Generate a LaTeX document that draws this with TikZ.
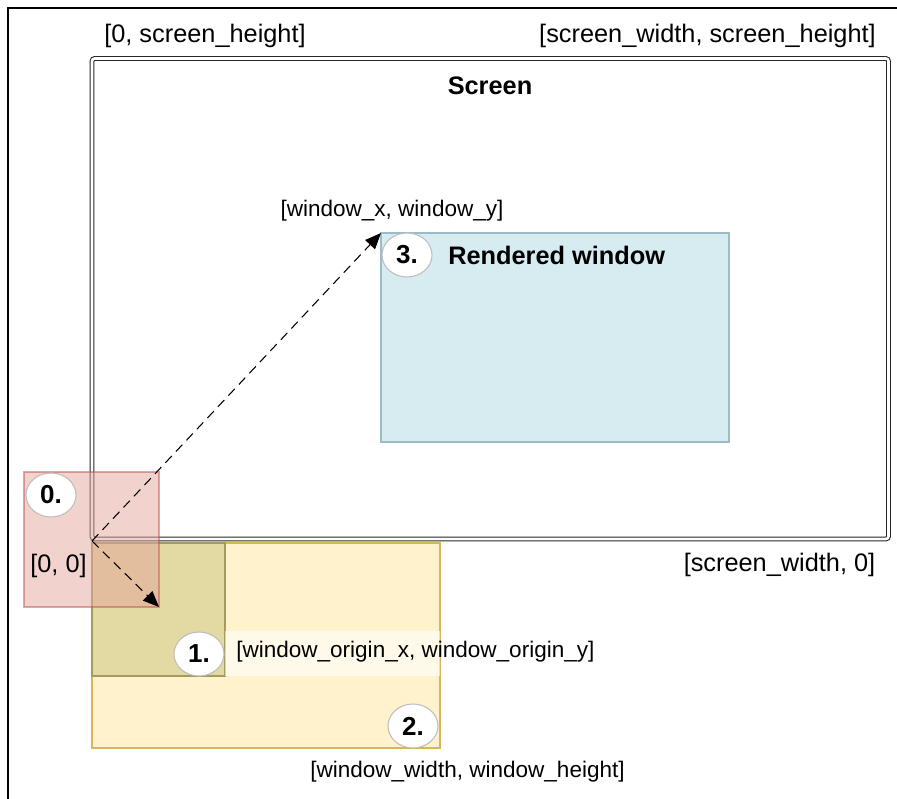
\documentclass[tikz,border=0pt]{standalone}
\usepackage{fontspec}
\setmainfont{Liberation Sans}
\usetikzlibrary{arrows.meta,fit,shapes.geometric}
\definecolor{yfill}{RGB}{255,242,204}
\definecolor{ydraw}{RGB}{214,182,86}
\definecolor{ofill}{RGB}{227,217,162}
\definecolor{odraw}{RGB}{165,155,95}
\definecolor{rfill}{RGB}{228,165,156}
\definecolor{rdraw}{RGB}{184,84,80}
\definecolor{bfill}{RGB}{214,236,240}
\definecolor{bdraw}{RGB}{155,188,198}
\definecolor{ndraw}{RGB}{190,190,190}
\begin{document}
\begin{tikzpicture}[x=0.75pt,y=-0.75pt,
  area/.style={inner sep=0pt,outer sep=0pt},
  coordlbl/.style={inner sep=0pt,font=\fontsize{19}{22}\selectfont},
  wlbl/.style={inner sep=0pt,font=\fontsize{16.9}{20}\selectfont},
  titlelbl/.style={inner sep=0pt,font=\bfseries\fontsize{19}{22}\selectfont},
  numbub/.style={ellipse,draw=ndraw,line width=0.8pt,fill=white,minimum width=37.5pt,minimum height=33pt,inner sep=0pt,font=\bfseries\fontsize{19.5}{22}\selectfont},
  arr/.style={dash pattern=on 7pt off 4.5pt,line width=0.8pt,-{Triangle[length=12pt,width=10pt]}}]
\useasboundingbox (0,0) rectangle (897,799);
% outer frame
\coordinate (fbl) at (8,800);
\coordinate (ftl) at (8,8);
\coordinate (ftr) at (898,8);
\draw[line width=1pt] (fbl) -- (ftl) -- (ftr);
% screen
\node[area,fit={(92,58.5)(888.5,539)},draw=black!85,line width=0.8pt,double,double distance=2pt,rounded corners=2pt] (screen) {};
\node[titlelbl] (screenlbl) at (490,86) {Screen};
% rendered window
\node[area,fit={(381,233)(729,442)},draw=bdraw,fill=bfill,line width=0.8pt] (blue) {};
\node[titlelbl,anchor=west] (rendlbl) at (448,255) {Rendered window};
% yellow window
\node[area,fit={(92,543)(440,748)},draw=ydraw,fill=yfill,line width=0.8pt] (yellow) {};
\node[area,fit={(92,543)(225,676)},draw=odraw,fill=ofill,line width=0.8pt] (olive) {};
\node[area,fit={(225,631)(440,676)},fill=white,fill opacity=0.6] (lblbg) {};
\node[wlbl,anchor=west] (originlbl) at (236,652) {[window\_origin\_x, window\_origin\_y]};
% red
\node[area,fit={(24,472)(159,607)},draw=rdraw,draw opacity=0.5,fill=rfill,fill opacity=0.5,line width=0.8pt] (red) {};
% labels
\node[coordlbl] (tl) at (205,36) {[0, screen\_height]};
\node[coordlbl] (tr) at (707.5,36) {[screen\_width, screen\_height]};
\node[coordlbl] (br) at (779.5,565) {[screen\_width, 0]};
\node[coordlbl] (bl) at (58.5,566) {[0, 0]};
\node[wlbl] (wxy) at (392,211) {[window\_x, window\_y]};
\node[wlbl] (wwh) at (467.5,772) {[window\_width, window\_height]};
% bubbles
\node[numbub] (n0) at (51,495) {0.};
\node[numbub] (n1) at (199,654) {1.};
\node[numbub] (n2) at (413,726) {2.};
\node[numbub] (n3) at (407,255) {3.};
% arrows
\coordinate (orig) at (92,541);
\draw[arr] (orig) -- (blue.north west);
\draw[arr] (orig) -- (red.south east);
\end{tikzpicture}
\end{document}
